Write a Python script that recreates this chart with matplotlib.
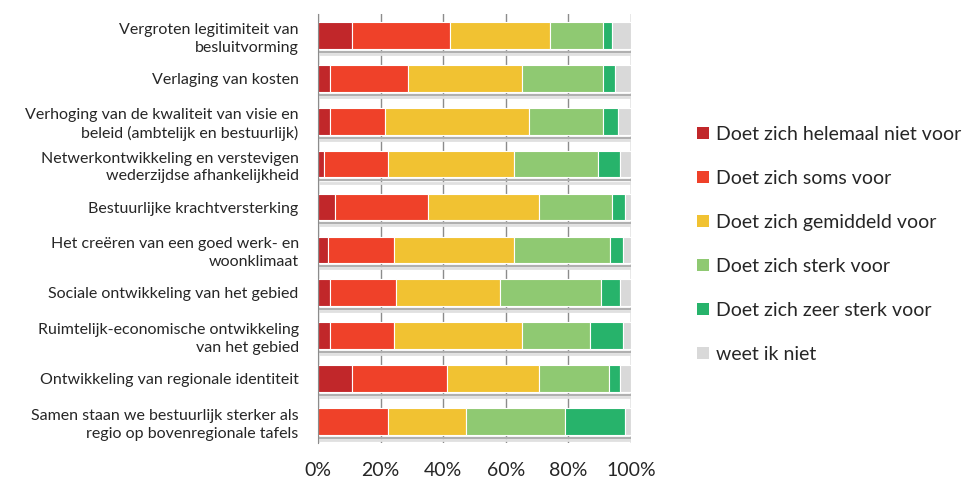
import matplotlib
matplotlib.use("Agg")
import matplotlib.pyplot as plt
from matplotlib.patches import Patch
import numpy as np

plt.rcParams['font.family'] = ['Lato', 'DejaVu Sans']

# categories (top to bottom)
categories = [
    "Vergroten legitimiteit van\nbesluitvorming",
    "Verlaging van kosten",
    "Verhoging van de kwaliteit van visie en\nbeleid (ambtelijk en bestuurlijk)",
    "Netwerkontwikkeling en verstevigen\nwederzijdse afhankelijkheid",
    "Bestuurlijke krachtversterking",
    "Het creëren van een goed werk- en\nwoonklimaat",
    "Sociale ontwikkeling van het gebied",
    "Ruimtelijk-economische ontwikkeling\nvan het gebied",
    "Ontwikkeling van regionale identiteit",
    "Samen staan we bestuurlijk sterker als\nregio op bovenregionale tafels",
]

# percentages per answer
helemaal_niet = [10.9, 3.7, 3.7, 2.0, 5.4, 3.0, 3.7, 3.7, 10.9, 0.0]
soms = [31.3, 25.0, 17.8, 20.3, 29.7, 21.1, 21.3, 20.4, 30.2, 22.3]
gemiddeld = [31.9, 36.5, 45.8, 40.3, 35.6, 38.5, 33.1, 41.1, 29.6, 25.1]
sterk = [16.9, 25.8, 23.7, 26.8, 23.3, 30.7, 32.4, 21.7, 22.2, 31.5]
zeer_sterk = [3.0, 3.8, 4.8, 7.2, 4.2, 4.1, 6.1, 10.5, 3.7, 19.3]
weet_niet = [6.0, 5.2, 4.2, 3.4, 1.8, 2.6, 3.4, 2.6, 3.4, 1.8]

series_labels = [
    "Doet zich helemaal niet voor",
    "Doet zich soms voor",
    "Doet zich gemiddeld voor",
    "Doet zich sterk voor",
    "Doet zich zeer sterk voor",
    "weet ik niet",
]
colors = ["#C1272A", "#EF4129", "#F1C232", "#8FC972", "#27B36B", "#D9D9D9"]

xticks = [0, 20, 40, 60, 80, 100]


def main():
    series = [helemaal_niet, soms, gemiddeld, sterk, zeer_sterk, weet_niet]
    fig = plt.figure(figsize=(9.73, 4.83), dpi=100)
    ax = fig.add_axes([0.327, 0.083, 0.3215, 0.888])

    y = np.arange(len(categories))
    bar_h = 0.62

    # vertical grid + 3d-ish floor lines
    for xv in xticks:
        ax.axvline(xv, color="#8c8c8c", lw=1.0, zorder=0)
    for yi in y:
        ax.hlines(yi + bar_h / 2 + 0.07, 0, 100, color="#b0b0b0", lw=1.6, zorder=0)
        ax.hlines(yi + bar_h / 2 + 0.12, 0, 100, color="#e0e0e0", lw=2.0, zorder=0)

    left = np.zeros(len(categories))
    for vals, col in zip(series, colors):
        vals = np.array(vals)
        ax.barh(y, vals, left=left, height=bar_h, color=col,
                edgecolor="white", linewidth=0.8, zorder=2)
        left += vals

    ax.set_xlim(0, 100)
    ax.set_ylim(len(categories) - 0.5, -0.5)
    ax.set_yticks(y)
    ax.set_yticklabels(categories, fontsize=11.5, color="#262626", linespacing=1.35)
    ax.set_xticks(xticks)
    ax.set_xticklabels([f"{v}%" for v in xticks], fontsize=14, color="#262626")
    ax.tick_params(axis="both", length=0)
    ax.tick_params(axis="x", pad=14)
    ax.tick_params(axis="y", pad=14)
    for s in ["top", "right", "bottom"]:
        ax.spines[s].set_visible(False)
    ax.spines["left"].set_color("#8c8c8c")

    handles = [Patch(facecolor=c, edgecolor="none") for c in colors]
    fig.legend(handles, series_labels, loc="upper left", bbox_to_anchor=(0.698, 0.776),
               frameon=False, fontsize=14, handlelength=0.62, handleheight=0.62,
               handletextpad=0.35, labelspacing=1.39, labelcolor="#262626")

    fig.savefig("out.png", dpi=100)


if __name__ == "__main__":
    main()
